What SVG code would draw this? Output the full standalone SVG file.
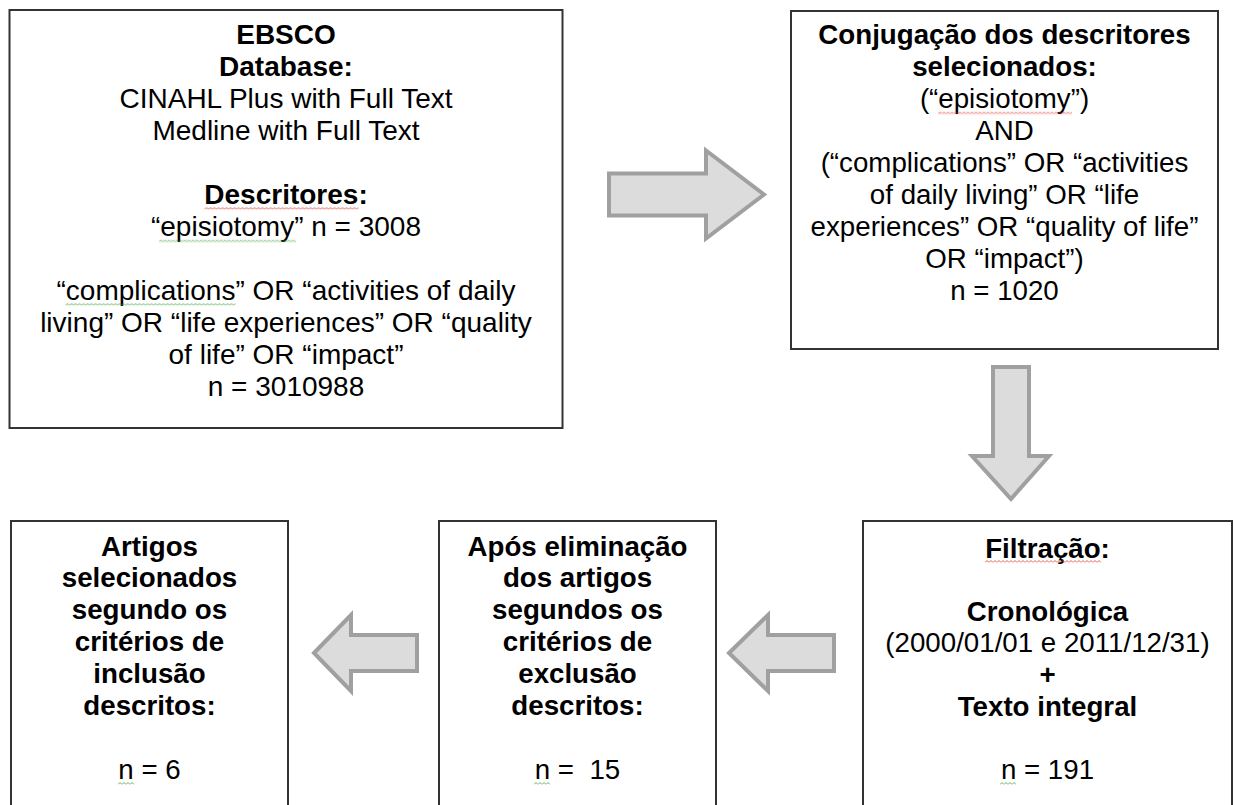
<svg xmlns="http://www.w3.org/2000/svg" width="1235" height="805" viewBox="0 0 1235 805">
<style>
.box{fill:#fff;stroke:#333;stroke-width:2}
.t{font-family:"Liberation Sans",Arial,sans-serif;font-size:27.7px;fill:#000;text-anchor:middle}
.t1{font-size:28px}
.b{font-weight:bold}
.arr{fill:#dcdcdc;stroke:#a0a0a0;stroke-width:4;stroke-linejoin:miter}
</style>
<defs>
<pattern id="wr" width="4" height="3" patternUnits="userSpaceOnUse"><path d="M0,2.5 L2,0.5 L4,2.5" fill="none" stroke="#e0322b" stroke-width="0.8"/></pattern>
<pattern id="wg" width="4" height="3" patternUnits="userSpaceOnUse"><path d="M0,2.5 L2,0.5 L4,2.5" fill="none" stroke="#3aa03a" stroke-width="0.8"/></pattern>
</defs>
<rect width="1235" height="805" fill="#fff"/>
<g id="connectors">
<path class="arr" d="M609,173.5 L706,173.5 L706,150.5 L764,194.5 L706,238.5 L706,215.5 L609,215.5 Z"/>
<path class="arr" d="M993,367 L1029,367 L1029,456 L1049,456 L1011,499 L972,456 L993,456 Z"/>
<path class="arr" d="M729,653 L768,615 L768,635 L834,635 L834,671 L768,671 L768,691 Z"/>
<path class="arr" d="M314,653 L351,615 L351,635 L417,635 L417,671 L351,671 L351,691 Z"/>
</g>
<g id="ebsco">
<rect class="box" x="9.5" y="10" width="553" height="418"/>
<text class="t t1 b" x="286" y="44">EBSCO</text>
<text class="t t1 b" x="286" y="76">Database:</text>
<text class="t t1" x="286" y="108">CINAHL Plus with Full Text</text>
<text class="t t1" x="286" y="140">Medline with Full Text</text>
<text class="t t1 b" x="286" y="204">Descritores:</text>
<text class="t t1" x="286" y="236">“episiotomy” n = 3008</text>
<text class="t t1" x="286" y="300">“complications” OR “activities of daily</text>
<text class="t t1" x="286" y="332">living” OR “life experiences” OR “quality</text>
<text class="t t1" x="286" y="364">of life” OR “impact”</text>
<text class="t t1" x="286" y="396">n = 3010988</text>
<rect transform="translate(204.5,207)" width="154" height="3" fill="url(#wr)"/>
<rect transform="translate(159,239.5)" width="137" height="3" fill="url(#wg)"/>
<rect transform="translate(65.5,303)" width="170" height="3" fill="url(#wg)"/>
</g>
<g id="conjugacao">
<rect class="box" x="791" y="11" width="427" height="338"/>
<text class="t b" x="1004.5" y="44.3">Conjugação dos descritores</text>
<text class="t b" x="1004.5" y="76.3">selecionados:</text>
<text class="t" x="1004.5" y="108.3">(“episiotomy”)</text>
<text class="t" x="1004.5" y="140.3">AND</text>
<text class="t" x="1004.5" y="172.3">(“complications” OR “activities</text>
<text class="t" x="1004.5" y="204.3">of daily living” OR “life</text>
<text class="t" x="1004.5" y="236.3">experiences” OR “quality of life”</text>
<text class="t" x="1004.5" y="268.3">OR “impact”)</text>
<text class="t" x="1004.5" y="300.3">n = 1020</text>
<rect transform="translate(938,111.5)" width="134" height="3" fill="url(#wr)"/>
</g>
<g id="filtracao">
<rect class="box" x="863" y="521" width="369" height="300"/>
<text class="t b" x="1047.5" y="557.5">Filtração:</text>
<text class="t b" x="1047.5" y="620.7">Cronológica</text>
<text class="t" x="1047.5" y="652.3">(2000/01/01 e 2011/12/31)</text>
<text class="t b" x="1047.5" y="683.9">+</text>
<text class="t b" x="1047.5" y="715.5">Texto integral</text>
<text class="t" x="1047.5" y="778.7">n = 191</text>
<rect transform="translate(985,560)" width="116" height="3" fill="url(#wr)"/>
<rect transform="translate(1000,782)" width="16" height="3" fill="url(#wg)"/>
</g>
<g id="exclusao">
<rect class="box" x="439" y="521" width="277" height="300"/>
<text class="t b" x="577.5" y="555.5">Após eliminação</text>
<text class="t b" x="577.5" y="587.4">dos artigos</text>
<text class="t b" x="577.5" y="619.3">segundos os</text>
<text class="t b" x="577.5" y="651.2">critérios de</text>
<text class="t b" x="577.5" y="683.1">exclusão</text>
<text class="t b" x="577.5" y="715">descritos:</text>
<text class="t" x="577.5" y="778.8">n =&#160; 15</text>
<rect transform="translate(534,782)" width="16" height="3" fill="url(#wg)"/>
</g>
<g id="inclusao">
<rect class="box" x="11" y="521" width="277" height="300"/>
<text class="t b" x="149.5" y="555.5">Artigos</text>
<text class="t b" x="149.5" y="587.4">selecionados</text>
<text class="t b" x="149.5" y="619.3">segundo os</text>
<text class="t b" x="149.5" y="651.2">critérios de</text>
<text class="t b" x="149.5" y="683.1">inclusão</text>
<text class="t b" x="149.5" y="715">descritos:</text>
<text class="t" x="149.5" y="778.8">n = 6</text>
<rect transform="translate(118,782)" width="16" height="3" fill="url(#wg)"/>
</g>
</svg>
